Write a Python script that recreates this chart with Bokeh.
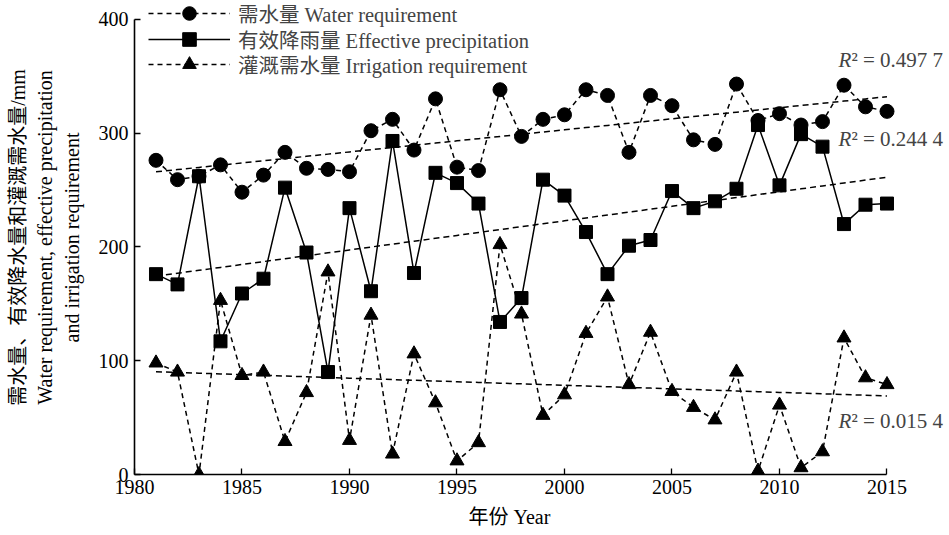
import numpy as np
from bokeh.plotting import figure
from bokeh.models import Label, Legend, LegendItem, Range1d, FixedTicker, Title
from bokeh.embed import file_html
from bokeh.resources import INLINE

# ---------------- data ----------------
years = list(range(1981, 2016))
water_req = [276, 259, 262, 272, 248, 263, 283, 269, 268, 266,
             302, 312, 285, 330, 270, 267, 338, 297, 312, 316,
             338, 333, 283, 333, 324, 294, 290, 343, 311, 317,
             307, 310, 342, 323, 319]
eff_precip = [176, 167, 262, 117, 159, 172, 252, 195, 90, 234,
              161, 293, 177, 265, 256, 238, 134, 155, 259, 245,
              213, 176, 201, 206, 249, 234, 240, 251, 307, 254,
              299, 288, 220, 237, 238]
irr_req = [98, 90, 0, 153, 87, 90, 29, 72, 178, 30,
           140, 18, 106, 63, 12, 28, 202, 141, 52, 70,
           124, 156, 79, 125, 73, 59, 48, 90, 3, 61,
           6, 20, 120, 85, 79]
series_names = ["需水量 Water requirement",
                "有效降雨量 Effective precipitation",
                "灌溉需水量 Irrigation requirement"]
r2_values = ["0.497 7", "0.244 4", "0.015 4"]
x_ticks = [1980, 1985, 1990, 1995, 2000, 2005, 2010, 2015]
y_ticks = [0, 100, 200, 300, 400]
x_title = "年份 Year"
y_title_lines = ["需水量、有效降水量和灌溉需水量/mm",
                 "Water requirement, effective precipitation",
                 "and irrigation requirement"]

FONT = "Liberation Serif, Noto Sans CJK SC"

def trend(ys):
    k, b = np.polyfit(years, ys, 1)
    return [k * x + b for x in years]

# frame reaches the right and top edges so that the legend and R² notes are not clipped;
# the axes themselves are bounded to 1980-2015 and 0-400
p = figure(width=949, height=535, output_backend="svg", toolbar_location=None,
           x_range=Range1d(1980, 2017.907), y_range=Range1d(0, 416.4),
           min_border_left=134, min_border_right=0, min_border_top=0,
           min_border_bottom=61)
p.outline_line_color = None
p.grid.visible = False
p.background_fill_color = "white"
p.border_fill_color = "white"

for ax in (p.xaxis[0], p.yaxis[0]):
    ax.axis_line_color = "black"
    ax.axis_line_width = 1.6
    ax.major_tick_in = 6
    ax.major_tick_out = 0
    ax.major_tick_line_width = 1.3
    ax.minor_tick_line_color = None
    ax.major_label_text_font = FONT
    ax.major_label_text_font_size = "20px"
    ax.major_label_text_color = "black"

p.xaxis.bounds = (1980, 2015)
p.yaxis.bounds = (0, 400)
p.xaxis.ticker = FixedTicker(ticks=x_ticks)
p.yaxis.ticker = FixedTicker(ticks=y_ticks)
p.xaxis.major_label_standoff = 5
p.yaxis.major_label_standoff = 6

# small blank spacer between the tick labels and the y-axis title
p.add_layout(Title(text=" ", text_font_size="8px", standoff=0), "left")
# y-axis title: three centred rotated lines (innermost added first)
for t in reversed(y_title_lines):
    p.add_layout(Title(text=t, align="center", offset=11, text_font=FONT,
                       text_font_size="20px", text_font_style="normal",
                       text_color="black", standoff=3), "left")

# x-axis title centred under the 1980-2015 axis (not under the wider frame)
p.add_layout(Title(text=x_title, align="left", offset=334, text_font=FONT,
                   text_font_size="20px", text_font_style="normal",
                   text_color="black", standoff=15), "below")

# trend lines
for ys in (water_req, eff_precip, irr_req):
    p.line(years, trend(ys), line_color="black", line_width=1.5, line_dash="6 4")

# series
l1 = p.line(years, water_req, line_color="black", line_width=1.5, line_dash="5 4")
m1 = p.scatter(years, water_req, marker="circle", size=14, color="black")
l2 = p.line(years, eff_precip, line_color="black", line_width=1.5)
m2 = p.scatter(years, eff_precip, marker="square", size=13, color="black")
l3 = p.line(years, irr_req, line_color="black", line_width=1.5, line_dash="5 4")
m3 = p.scatter(years, irr_req, marker="triangle", size=14, color="black")

# one single-row legend per series, so the row spacing can match the reference
legend_rows = [(series_names[0], [l1, m1], 444),
               (series_names[1], [l2, m2], 418.5),
               (series_names[2], [l3, m3], 393)]
for name, rends, ly in legend_rows:
    p.add_layout(Legend(items=[LegendItem(label=name, renderers=rends)],
                        location=(14, ly), glyph_width=82, glyph_height=34,
                        label_height=20, label_standoff=8, spacing=0, padding=0,
                        margin=0, border_line_color=None, background_fill_alpha=0,
                        label_text_font=FONT, label_text_font_size="20.5px"))

# R^2 labels
r2_pos = [(2012.74, 363.7), (2012.74, 294.3), (2012.74, 46.6)]
for (x, y), r2 in zip(r2_pos, r2_values):
    p.add_layout(Label(x=x, y=y, text="R", text_font=FONT, text_font_style="italic",
                       text_font_size="21px", text_baseline="middle", text_align="left"))
    p.add_layout(Label(x=x, y=y, x_offset=13, text="² = " + r2, text_font=FONT,
                       text_font_size="21px", text_baseline="middle", text_align="left"))

open("out.html", "w").write(file_html(p, INLINE))
